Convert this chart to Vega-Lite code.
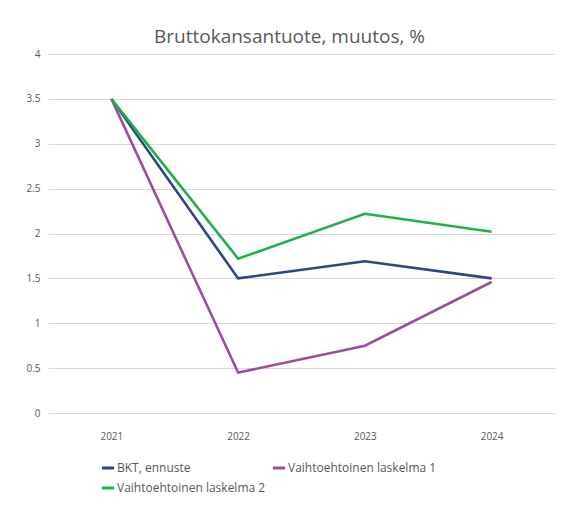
{
  "$schema": "https://vega.github.io/schema/vega-lite/v6.json",
  "autosize": "none",
  "width": 507,
  "height": 359,
  "padding": {"left": 48, "top": 54, "right": 14, "bottom": 113},
  "background": "white",
  "config": {"view": {"stroke": null}},
  "title": {
    "text": "Bruttokansantuote, muutos, %",
    "font": "Open Sans",
    "fontSize": 19,
    "fontWeight": 400,
    "color": "#595959",
    "anchor": "middle",
    "dx": -12,
    "offset": 2
  },
  "data": {
    "values": [
      {"vuosi": "2021", "sarja": "BKT, ennuste", "arvo": 3.5},
      {"vuosi": "2022", "sarja": "BKT, ennuste", "arvo": 1.5},
      {"vuosi": "2023", "sarja": "BKT, ennuste", "arvo": 1.69},
      {"vuosi": "2024", "sarja": "BKT, ennuste", "arvo": 1.5},
      {"vuosi": "2021", "sarja": "Vaihtoehtoinen laskelma 1", "arvo": 3.5},
      {"vuosi": "2022", "sarja": "Vaihtoehtoinen laskelma 1", "arvo": 0.45},
      {"vuosi": "2023", "sarja": "Vaihtoehtoinen laskelma 1", "arvo": 0.75},
      {"vuosi": "2024", "sarja": "Vaihtoehtoinen laskelma 1", "arvo": 1.46},
      {"vuosi": "2021", "sarja": "Vaihtoehtoinen laskelma 2", "arvo": 3.5},
      {"vuosi": "2022", "sarja": "Vaihtoehtoinen laskelma 2", "arvo": 1.72},
      {"vuosi": "2023", "sarja": "Vaihtoehtoinen laskelma 2", "arvo": 2.22},
      {"vuosi": "2024", "sarja": "Vaihtoehtoinen laskelma 2", "arvo": 2.02}
    ]
  },
  "mark": {"type": "line", "strokeWidth": 2.6},
  "encoding": {
    "x": {
      "field": "vuosi",
      "type": "ordinal",
      "scale": {"type": "point", "padding": 0.5},
      "axis": {
        "title": null,
        "labelAngle": 0,
        "domain": false,
        "ticks": false,
        "grid": false,
        "labelFont": "Open Sans",
        "labelFontSize": 10,
        "labelColor": "#595959",
        "labelPadding": 18
      }
    },
    "y": {
      "field": "arvo",
      "type": "quantitative",
      "scale": {"domain": [0, 4], "nice": false},
      "axis": {
        "title": null,
        "values": [0, 0.5, 1, 1.5, 2, 2.5, 3, 3.5, 4],
        "format": "~g",
        "domain": false,
        "ticks": false,
        "grid": true,
        "gridColor": "#d9d9d9",
        "gridWidth": 1,
        "labelFont": "Open Sans",
        "labelFontSize": 10,
        "labelColor": "#595959",
        "labelPadding": 8
      }
    },
    "color": {
      "field": "sarja",
      "type": "nominal",
      "scale": {
        "domain": ["BKT, ennuste", "Vaihtoehtoinen laskelma 1", "Vaihtoehtoinen laskelma 2"],
        "range": ["#2E4585", "#9C4E9C", "#1FB04C"]
      },
      "legend": {
        "title": null,
        "orient": "none",
        "legendX": 52,
        "legendY": 406,
        "direction": "horizontal",
        "columns": 2,
        "columnPadding": 0,
        "rowPadding": 6,
        "symbolType": "stroke",
        "symbolStrokeWidth": 3,
        "symbolSize": 150,
        "labelFont": "Open Sans",
        "labelFontSize": 12,
        "labelColor": "#595959",
        "labelOffset": 1
      }
    }
  }
}
